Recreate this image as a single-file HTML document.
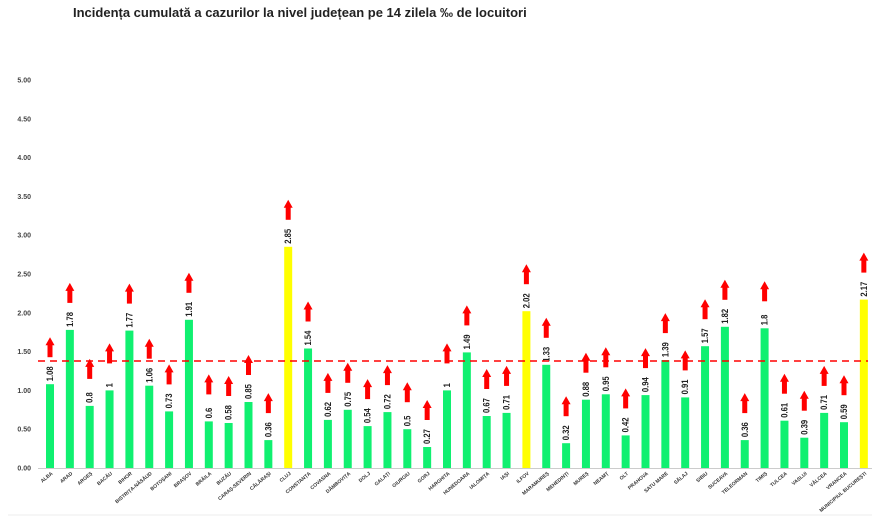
<!DOCTYPE html>
<html><head><meta charset="utf-8"><style>
html,body{margin:0;padding:0;background:#fff;}
svg{display:block;font-family:"Liberation Sans",sans-serif;}
.g{fill:#10f070}.y{fill:#ffff00}
.v{font-size:9px;font-weight:bold;fill:#222}
.x{font-size:5px;font-weight:bold;fill:#333;text-anchor:end}
.t{font-size:7px;font-weight:bold;fill:#444;text-anchor:end}
</style></head><body>
<svg width="880" height="531" viewBox="0 0 880 531" xmlns="http://www.w3.org/2000/svg" xmlns:xlink="http://www.w3.org/1999/xlink">
<defs><g id="ar"><rect x="-2.5" y="-40" width="5" height="13" fill="#ff0000"/><polygon points="-4.5,-39 4.5,-39 0,-47" fill="#ff0000"/></g></defs>
<rect width="880" height="531" fill="#fff"/>
<text x="73" y="17" font-size="13" font-weight="bold" fill="#222">Incidența cumulată a cazurilor la nivel județean pe 14 zilela ‰ de locuitori</text>
<line x1="8" y1="515" x2="872" y2="515" stroke="#eee"/>
<text class="t" x="31" y="470.5">0.00</text><text class="t" x="31" y="431.7">0.50</text><text class="t" x="31" y="392.9">1.00</text><text class="t" x="31" y="354.1">1.50</text><text class="t" x="31" y="315.3">2.00</text><text class="t" x="31" y="276.5">2.50</text><text class="t" x="31" y="237.7">3.00</text><text class="t" x="31" y="198.9">3.50</text><text class="t" x="31" y="160.1">4.00</text><text class="t" x="31" y="121.3">4.50</text><text class="t" x="31" y="82.5">5.00</text>
<line x1="38" y1="468.5" x2="872" y2="468.5" stroke="#ccc"/>
<g transform="translate(50,384.2)"><rect class="g" x="-4" width="8" height="83.8"/><use href="#ar" xlink:href="#ar"/><text class="v" transform="translate(3,-3) rotate(-90) scale(0.85,1)">1.08</text></g>
<g transform="translate(69.85,329.9)"><rect class="g" x="-4" width="8" height="138.1"/><use href="#ar" xlink:href="#ar"/><text class="v" transform="translate(3,-3) rotate(-90) scale(0.85,1)">1.78</text></g>
<g transform="translate(89.7,405.9)"><rect class="g" x="-4" width="8" height="62.1"/><use href="#ar" xlink:href="#ar"/><text class="v" transform="translate(3,-3) rotate(-90) scale(0.85,1)">0.8</text></g>
<g transform="translate(109.55,390.4)"><rect class="g" x="-4" width="8" height="77.6"/><use href="#ar" xlink:href="#ar"/><text class="v" transform="translate(3,-3) rotate(-90) scale(0.85,1)">1</text></g>
<g transform="translate(129.4,330.6)"><rect class="g" x="-4" width="8" height="137.4"/><use href="#ar" xlink:href="#ar"/><text class="v" transform="translate(3,-3) rotate(-90) scale(0.85,1)">1.77</text></g>
<g transform="translate(149.25,385.7)"><rect class="g" x="-4" width="8" height="82.3"/><use href="#ar" xlink:href="#ar"/><text class="v" transform="translate(3,-3) rotate(-90) scale(0.85,1)">1.06</text></g>
<g transform="translate(169.1,411.4)"><rect class="g" x="-4" width="8" height="56.6"/><use href="#ar" xlink:href="#ar"/><text class="v" transform="translate(3,-3) rotate(-90) scale(0.85,1)">0.73</text></g>
<g transform="translate(188.95,319.8)"><rect class="g" x="-4" width="8" height="148.2"/><use href="#ar" xlink:href="#ar"/><text class="v" transform="translate(3,-3) rotate(-90) scale(0.85,1)">1.91</text></g>
<g transform="translate(208.8,421.4)"><rect class="g" x="-4" width="8" height="46.6"/><use href="#ar" xlink:href="#ar"/><text class="v" transform="translate(3,-3) rotate(-90) scale(0.85,1)">0.6</text></g>
<g transform="translate(228.65,423)"><rect class="g" x="-4" width="8" height="45"/><use href="#ar" xlink:href="#ar"/><text class="v" transform="translate(3,-3) rotate(-90) scale(0.85,1)">0.58</text></g>
<g transform="translate(248.5,402)"><rect class="g" x="-4" width="8" height="66"/><use href="#ar" xlink:href="#ar"/><text class="v" transform="translate(3,-3) rotate(-90) scale(0.85,1)">0.85</text></g>
<g transform="translate(268.35,440.1)"><rect class="g" x="-4" width="8" height="27.9"/><use href="#ar" xlink:href="#ar"/><text class="v" transform="translate(3,-3) rotate(-90) scale(0.85,1)">0.36</text></g>
<g transform="translate(288.2,246.8)"><rect class="y" x="-4" width="8" height="221.2"/><use href="#ar" xlink:href="#ar"/><text class="v" transform="translate(3,-3) rotate(-90) scale(0.85,1)">2.85</text></g>
<g transform="translate(308.05,348.5)"><rect class="g" x="-4" width="8" height="119.5"/><use href="#ar" xlink:href="#ar"/><text class="v" transform="translate(3,-3) rotate(-90) scale(0.85,1)">1.54</text></g>
<g transform="translate(327.9,419.9)"><rect class="g" x="-4" width="8" height="48.1"/><use href="#ar" xlink:href="#ar"/><text class="v" transform="translate(3,-3) rotate(-90) scale(0.85,1)">0.62</text></g>
<g transform="translate(347.75,409.8)"><rect class="g" x="-4" width="8" height="58.2"/><use href="#ar" xlink:href="#ar"/><text class="v" transform="translate(3,-3) rotate(-90) scale(0.85,1)">0.75</text></g>
<g transform="translate(367.6,426.1)"><rect class="g" x="-4" width="8" height="41.9"/><use href="#ar" xlink:href="#ar"/><text class="v" transform="translate(3,-3) rotate(-90) scale(0.85,1)">0.54</text></g>
<g transform="translate(387.45,412.1)"><rect class="g" x="-4" width="8" height="55.9"/><use href="#ar" xlink:href="#ar"/><text class="v" transform="translate(3,-3) rotate(-90) scale(0.85,1)">0.72</text></g>
<g transform="translate(407.3,429.2)"><rect class="g" x="-4" width="8" height="38.8"/><use href="#ar" xlink:href="#ar"/><text class="v" transform="translate(3,-3) rotate(-90) scale(0.85,1)">0.5</text></g>
<g transform="translate(427.15,447)"><rect class="g" x="-4" width="8" height="21"/><use href="#ar" xlink:href="#ar"/><text class="v" transform="translate(3,-3) rotate(-90) scale(0.85,1)">0.27</text></g>
<g transform="translate(447,390.4)"><rect class="g" x="-4" width="8" height="77.6"/><use href="#ar" xlink:href="#ar"/><text class="v" transform="translate(3,-3) rotate(-90) scale(0.85,1)">1</text></g>
<g transform="translate(466.85,352.4)"><rect class="g" x="-4" width="8" height="115.6"/><use href="#ar" xlink:href="#ar"/><text class="v" transform="translate(3,-3) rotate(-90) scale(0.85,1)">1.49</text></g>
<g transform="translate(486.7,416)"><rect class="g" x="-4" width="8" height="52"/><use href="#ar" xlink:href="#ar"/><text class="v" transform="translate(3,-3) rotate(-90) scale(0.85,1)">0.67</text></g>
<g transform="translate(506.55,412.9)"><rect class="g" x="-4" width="8" height="55.1"/><use href="#ar" xlink:href="#ar"/><text class="v" transform="translate(3,-3) rotate(-90) scale(0.85,1)">0.71</text></g>
<g transform="translate(526.4,311.2)"><rect class="y" x="-4" width="8" height="156.8"/><use href="#ar" xlink:href="#ar"/><text class="v" transform="translate(3,-3) rotate(-90) scale(0.85,1)">2.02</text></g>
<g transform="translate(546.25,364.8)"><rect class="g" x="-4" width="8" height="103.2"/><use href="#ar" xlink:href="#ar"/><text class="v" transform="translate(3,-3) rotate(-90) scale(0.85,1)">1.33</text></g>
<g transform="translate(566.1,443.2)"><rect class="g" x="-4" width="8" height="24.8"/><use href="#ar" xlink:href="#ar"/><text class="v" transform="translate(3,-3) rotate(-90) scale(0.85,1)">0.32</text></g>
<g transform="translate(585.95,399.7)"><rect class="g" x="-4" width="8" height="68.3"/><use href="#ar" xlink:href="#ar"/><text class="v" transform="translate(3,-3) rotate(-90) scale(0.85,1)">0.88</text></g>
<g transform="translate(605.8,394.3)"><rect class="g" x="-4" width="8" height="73.7"/><use href="#ar" xlink:href="#ar"/><text class="v" transform="translate(3,-3) rotate(-90) scale(0.85,1)">0.95</text></g>
<g transform="translate(625.65,435.4)"><rect class="g" x="-4" width="8" height="32.6"/><use href="#ar" xlink:href="#ar"/><text class="v" transform="translate(3,-3) rotate(-90) scale(0.85,1)">0.42</text></g>
<g transform="translate(645.5,395.1)"><rect class="g" x="-4" width="8" height="72.9"/><use href="#ar" xlink:href="#ar"/><text class="v" transform="translate(3,-3) rotate(-90) scale(0.85,1)">0.94</text></g>
<g transform="translate(665.35,360.1)"><rect class="g" x="-4" width="8" height="107.9"/><use href="#ar" xlink:href="#ar"/><text class="v" transform="translate(3,-3) rotate(-90) scale(0.85,1)">1.39</text></g>
<g transform="translate(685.2,397.4)"><rect class="g" x="-4" width="8" height="70.6"/><use href="#ar" xlink:href="#ar"/><text class="v" transform="translate(3,-3) rotate(-90) scale(0.85,1)">0.91</text></g>
<g transform="translate(705.05,346.2)"><rect class="g" x="-4" width="8" height="121.8"/><use href="#ar" xlink:href="#ar"/><text class="v" transform="translate(3,-3) rotate(-90) scale(0.85,1)">1.57</text></g>
<g transform="translate(724.9,326.8)"><rect class="g" x="-4" width="8" height="141.2"/><use href="#ar" xlink:href="#ar"/><text class="v" transform="translate(3,-3) rotate(-90) scale(0.85,1)">1.82</text></g>
<g transform="translate(744.75,440.1)"><rect class="g" x="-4" width="8" height="27.9"/><use href="#ar" xlink:href="#ar"/><text class="v" transform="translate(3,-3) rotate(-90) scale(0.85,1)">0.36</text></g>
<g transform="translate(764.6,328.3)"><rect class="g" x="-4" width="8" height="139.7"/><use href="#ar" xlink:href="#ar"/><text class="v" transform="translate(3,-3) rotate(-90) scale(0.85,1)">1.8</text></g>
<g transform="translate(784.45,420.7)"><rect class="g" x="-4" width="8" height="47.3"/><use href="#ar" xlink:href="#ar"/><text class="v" transform="translate(3,-3) rotate(-90) scale(0.85,1)">0.61</text></g>
<g transform="translate(804.3,437.7)"><rect class="g" x="-4" width="8" height="30.3"/><use href="#ar" xlink:href="#ar"/><text class="v" transform="translate(3,-3) rotate(-90) scale(0.85,1)">0.39</text></g>
<g transform="translate(824.15,412.9)"><rect class="g" x="-4" width="8" height="55.1"/><use href="#ar" xlink:href="#ar"/><text class="v" transform="translate(3,-3) rotate(-90) scale(0.85,1)">0.71</text></g>
<g transform="translate(844,422.2)"><rect class="g" x="-4" width="8" height="45.8"/><use href="#ar" xlink:href="#ar"/><text class="v" transform="translate(3,-3) rotate(-90) scale(0.85,1)">0.59</text></g>
<g transform="translate(863.85,299.6)"><rect class="y" x="-4" width="8" height="168.4"/><use href="#ar" xlink:href="#ar"/><text class="v" transform="translate(3,-3) rotate(-90) scale(0.85,1)">2.17</text></g>
<text class="x" transform="translate(53,474) rotate(-40)">ALBA</text>
<text class="x" transform="translate(72.85,474) rotate(-40)">ARAD</text>
<text class="x" transform="translate(92.7,474) rotate(-40)">ARGEȘ</text>
<text class="x" transform="translate(112.55,474) rotate(-40)">BACĂU</text>
<text class="x" transform="translate(132.4,474) rotate(-40)">BIHOR</text>
<text class="x" transform="translate(152.25,474) rotate(-40)">BISTRIȚA-NĂSĂUD</text>
<text class="x" transform="translate(172.1,474) rotate(-40)">BOTOȘANI</text>
<text class="x" transform="translate(191.95,474) rotate(-40)">BRAȘOV</text>
<text class="x" transform="translate(211.8,474) rotate(-40)">BRĂILA</text>
<text class="x" transform="translate(231.65,474) rotate(-40)">BUZĂU</text>
<text class="x" transform="translate(251.5,474) rotate(-40)">CARAȘ-SEVERIN</text>
<text class="x" transform="translate(271.35,474) rotate(-40)">CĂLĂRAȘI</text>
<text class="x" transform="translate(291.2,474) rotate(-40)">CLUJ</text>
<text class="x" transform="translate(311.05,474) rotate(-40)">CONSTANȚA</text>
<text class="x" transform="translate(330.9,474) rotate(-40)">COVASNA</text>
<text class="x" transform="translate(350.75,474) rotate(-40)">DÂMBOVIȚA</text>
<text class="x" transform="translate(370.6,474) rotate(-40)">DOLJ</text>
<text class="x" transform="translate(390.45,474) rotate(-40)">GALAȚI</text>
<text class="x" transform="translate(410.3,474) rotate(-40)">GIURGIU</text>
<text class="x" transform="translate(430.15,474) rotate(-40)">GORJ</text>
<text class="x" transform="translate(450,474) rotate(-40)">HARGHITA</text>
<text class="x" transform="translate(469.85,474) rotate(-40)">HUNEDOARA</text>
<text class="x" transform="translate(489.7,474) rotate(-40)">IALOMIȚA</text>
<text class="x" transform="translate(509.55,474) rotate(-40)">IAȘI</text>
<text class="x" transform="translate(529.4,474) rotate(-40)">ILFOV</text>
<text class="x" transform="translate(549.25,474) rotate(-40)">MARAMUREȘ</text>
<text class="x" transform="translate(569.1,474) rotate(-40)">MEHEDINȚI</text>
<text class="x" transform="translate(588.95,474) rotate(-40)">MUREȘ</text>
<text class="x" transform="translate(608.8,474) rotate(-40)">NEAMȚ</text>
<text class="x" transform="translate(628.65,474) rotate(-40)">OLT</text>
<text class="x" transform="translate(648.5,474) rotate(-40)">PRAHOVA</text>
<text class="x" transform="translate(668.35,474) rotate(-40)">SATU MARE</text>
<text class="x" transform="translate(688.2,474) rotate(-40)">SĂLAJ</text>
<text class="x" transform="translate(708.05,474) rotate(-40)">SIBIU</text>
<text class="x" transform="translate(727.9,474) rotate(-40)">SUCEAVA</text>
<text class="x" transform="translate(747.75,474) rotate(-40)">TELEORMAN</text>
<text class="x" transform="translate(767.6,474) rotate(-40)">TIMIȘ</text>
<text class="x" transform="translate(787.45,474) rotate(-40)">TULCEA</text>
<text class="x" transform="translate(807.3,474) rotate(-40)">VASLUI</text>
<text class="x" transform="translate(827.15,474) rotate(-40)">VÂLCEA</text>
<text class="x" transform="translate(847,474) rotate(-40)">VRANCEA</text>
<text class="x" transform="translate(866.85,474) rotate(-40)">MUNICIPIUL BUCUREȘTI</text>
<line x1="38" y1="361" x2="868" y2="361" stroke="#ff0000" stroke-width="1.5" stroke-dasharray="7,5"/>
</svg>
</body></html>
